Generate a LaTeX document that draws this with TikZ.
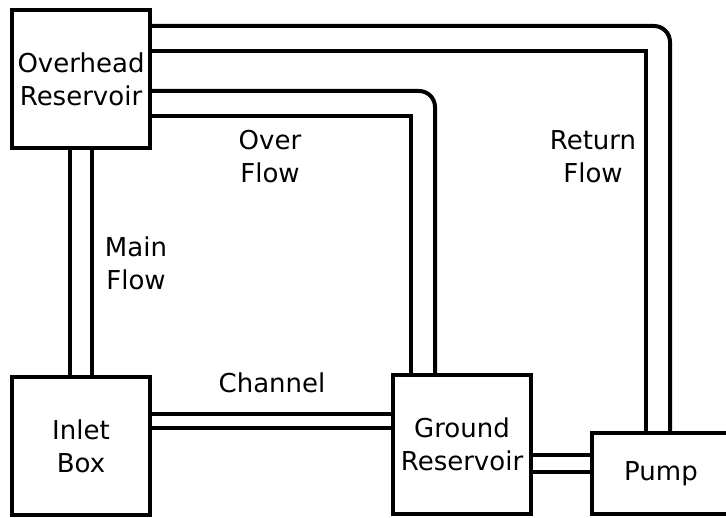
\documentclass[tikz,border=0pt]{standalone}
\usepackage{fontspec}
\setmainfont{DejaVu Sans}
\usetikzlibrary{calc}
\begin{document}
\begin{tikzpicture}[x=1pt,y=-1pt,
  every node/.style={font=\fontsize{26}{33}\selectfont, align=center},
  box/.style={draw, line width=4pt, fill=white, minimum width=138pt},
  pipe/.style={line width=4pt},
  lbl/.style={inner sep=0pt}]
\useasboundingbox (0,0) rectangle (726,518);
\node[box, minimum height=138pt] (ovh) at (81,79) {Overhead\\Reservoir};
\node[box, minimum height=138pt] (inlet) at (81,446) {Inlet\\Box};
\node[box, minimum height=139pt] (gnd) at (462,444.5) {Ground\\Reservoir};
\node[box, minimum height=81pt] (pump) at (661,473.5) {Pump};
% main flow
\draw[pipe] ([xshift=-11pt]ovh.south) -- ([xshift=-11pt]inlet.north);
\draw[pipe] ([xshift=11pt]ovh.south) -- ([xshift=11pt]inlet.north);
% over flow
\draw[pipe, rounded corners=16pt] ([yshift=-12pt]ovh.east) -| ([xshift=-27pt]gnd.north);
\draw[pipe] ([yshift=-37pt]ovh.east) -| ([xshift=-51pt]gnd.north);
% return flow
\draw[pipe, rounded corners=16pt] ([yshift=53pt]ovh.east) -| ([xshift=9pt]pump.north);
\draw[pipe] ([yshift=28pt]ovh.east) -| ([xshift=-15pt]pump.north);
% channel
\draw[pipe] ([yshift=32pt]inlet.east) -- ([yshift=32pt]inlet.east -| gnd.west);
\draw[pipe] ([yshift=18pt]inlet.east) -- ([yshift=18pt]inlet.east -| gnd.west);
% ground to pump
\draw[pipe] ([yshift=-10.5pt]gnd.east) -- ([yshift=-10.5pt]gnd.east -| pump.west);
\draw[pipe] ([yshift=-27.5pt]gnd.east) -- ([yshift=-27.5pt]gnd.east -| pump.west);
% labels
\node[lbl] (lof) at (270,157) {Over\\Flow};
\node[lbl] (lmf) at (136,263) {Main\\Flow};
\node[lbl] (lrf) at (593,157) {Return\\Flow};
\node[lbl] (lch) at (272,383) {Channel};
\end{tikzpicture}
\end{document}
